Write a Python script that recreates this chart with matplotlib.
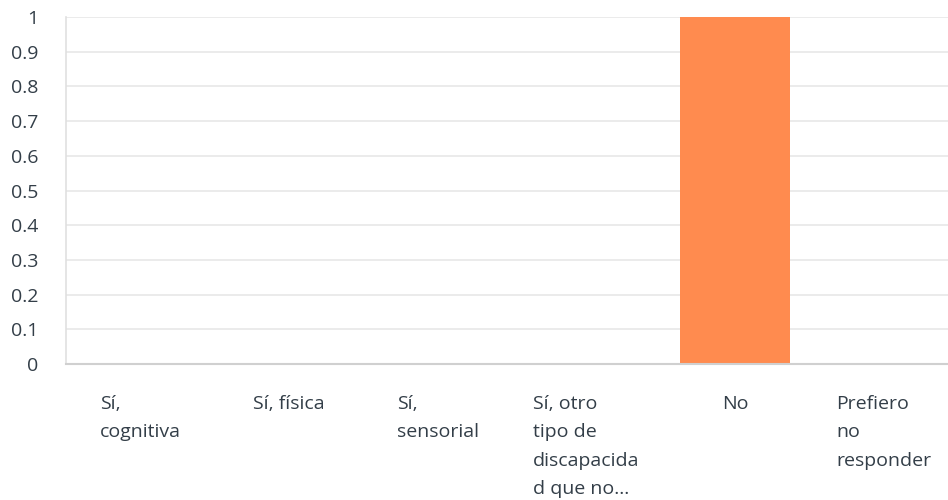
import matplotlib
matplotlib.use("Agg")
import matplotlib.pyplot as plt
import numpy as np

categories = ["Sí,\ncognitiva", "Sí, física", "Sí,\nsensorial",
              "Sí, otro\ntipo de\ndiscapacida\nd que no...", "No",
              "Prefiero\nno\nresponder"]
values = [0, 0, 0, 0, 1, 0]
y_ticks = [0, 0.1, 0.2, 0.3, 0.4, 0.5, 0.6, 0.7, 0.8, 0.9, 1]
y_tick_labels = ["0", "0.1", "0.2", "0.3", "0.4", "0.5", "0.6", "0.7", "0.8", "0.9", "1"]

plt.rcParams["font.family"] = ["Open Sans", "DejaVu Sans"]
text_color = "#333e48"

fig = plt.figure(figsize=(9.48, 5.0), dpi=100)
ax = fig.add_axes([66 / 948, 136 / 500, 892 / 948, 347 / 500])

x = np.arange(len(categories))
ax.bar(x, values, width=0.74, color="#ff8b4f", zorder=3)

ax.set_xlim(-0.5, len(categories) - 0.5)
ax.set_ylim(0, 1)
ax.set_yticks(y_ticks)
ax.set_yticklabels(y_tick_labels)
ax.yaxis.grid(True, color="#e8e8e8", linewidth=1.2, zorder=0)
ax.set_axisbelow(True)

for side in ["top", "right"]:
    ax.spines[side].set_visible(False)
ax.spines["left"].set_color("#e0e0e0")
ax.spines["bottom"].set_color("#d0d0d0")
ax.spines["left"].set_linewidth(1.2)
ax.spines["bottom"].set_linewidth(1.5)
ax.spines["left"].set_zorder(1)
ax.spines["bottom"].set_zorder(4)

ax.set_xticks(x)
ax.set_xticklabels(categories, linespacing=1.76)
ax.tick_params(axis="x", length=0, pad=22, labelsize=14, colors=text_color)
ax.tick_params(axis="y", length=0, pad=20, labelsize=14, colors=text_color)
for lbl in ax.get_xticklabels():
    lbl.set_multialignment("left")
    lbl.set_verticalalignment("top")

fig.savefig("out.png", dpi=100)
